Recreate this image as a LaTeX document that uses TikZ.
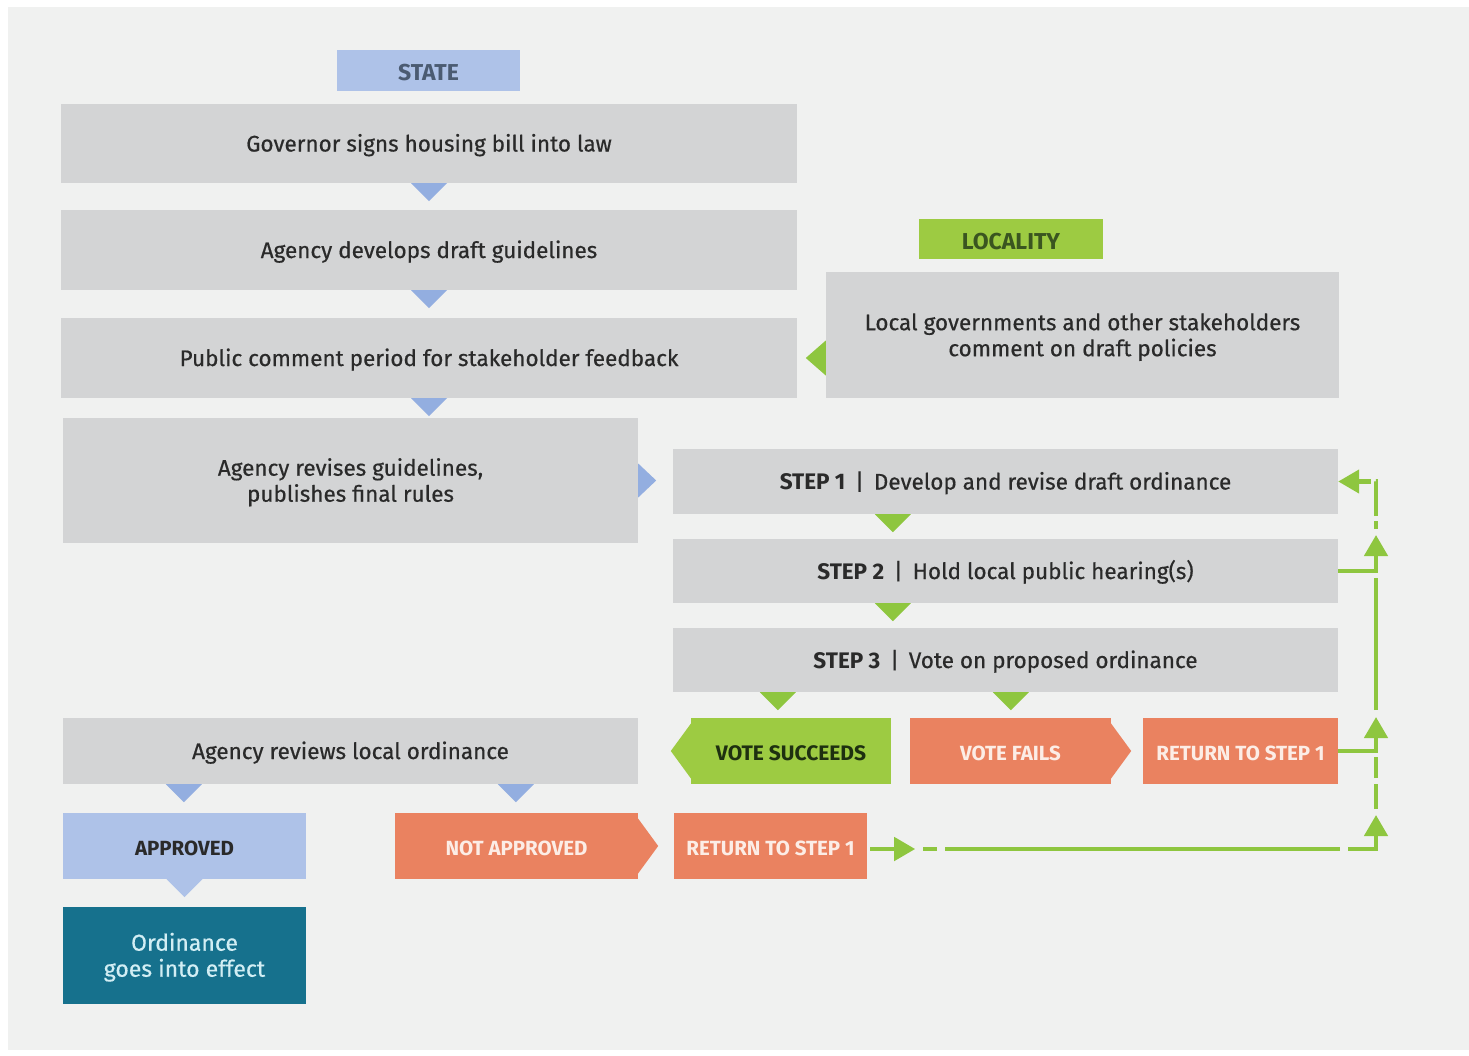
\documentclass[tikz,border=0pt]{standalone}
\usepackage{fontspec}
\setmainfont{Fira Sans}[UprightFeatures={FakeBold=0.5}]
\usetikzlibrary{arrows.meta,calc}
\definecolor{bgc}{HTML}{F0F1F0}
\definecolor{boxg}{HTML}{D3D4D5}
\definecolor{txt}{HTML}{2A2A2A}
\definecolor{lblue}{HTML}{AEC2E8}
\definecolor{tblue}{HTML}{93AEE0}
\definecolor{sblue}{HTML}{4B5B72}
\definecolor{lgreen}{HTML}{9DCB42}
\definecolor{tgreen}{HTML}{8EC63F}
\definecolor{dgreen}{HTML}{3A5520}
\definecolor{vgtxt}{HTML}{1E3010}
\definecolor{orng}{HTML}{EA8260}
\definecolor{otxt}{HTML}{FCEDE6}
\definecolor{teal}{HTML}{16718D}
\definecolor{ttxt}{HTML}{D2EEF4}
\newcommand\tridn[2]{\fill[#1] ($(#2)+(-18,0)$) -- ($(#2)+(18,0)$) -- ($(#2)+(0,18)$) -- cycle;}
\begin{document}
\begin{tikzpicture}[x=1pt,y=-1pt,
  every node/.style={inner sep=0pt, align=center},
  gbox/.style={fill=boxg, text=txt, font=\fontsize{22.5}{26}\selectfont, text height=22pt, text depth=6pt},
  gbox2/.style={fill=boxg, text=txt, font=\fontsize{22.5}{26}\selectfont, text height=48pt, text depth=5.6pt},
  lab/.style={font=\fontsize{23}{26}\selectfont\bfseries, text height=20pt, text depth=0pt},
  obox/.style={fill=orng, text=otxt, font=\fontsize{20.5}{24}\selectfont\bfseries, text height=18pt, text depth=0pt},
  gline/.style={draw=tgreen, line width=4.5pt},
  garr/.style={gline, -{Triangle[length=21pt,width=23pt]}}]
\useasboundingbox (0,0) rectangle (1469,1055);
\fill[white] (0,0) rectangle (1469,1055);
\fill[bgc] (8,7) rectangle (1469,1050);
% state column
\node[lab, fill=lblue, text=sblue, minimum width=183pt, minimum height=41pt] (state) at (428.5,70.5) {STATE};
\node[gbox, minimum width=736pt, minimum height=79pt] (gov) at (429,143.5) {Governor signs housing bill into law};
\node[gbox, minimum width=736pt, minimum height=80pt] (dev) at (429,250) {Agency develops draft guidelines};
\node[gbox, minimum width=736pt, minimum height=80pt] (pub) at (429,358) {Public comment period for stakeholder feedback};
\node[gbox2, minimum width=575pt, minimum height=125pt] (rev) at (350.5,480.5) {Agency revises guidelines,\\publishes final rules};
\tridn{tblue}{gov.south}
\tridn{tblue}{dev.south}
\tridn{tblue}{pub.south}
\fill[tblue] ($(rev.east)+(0,-17)$) -- ($(rev.east)+(18,0)$) -- ($(rev.east)+(0,17)$) -- cycle;
% locality
\node[lab, fill=lgreen, text=dgreen, minimum width=184pt, minimum height=40pt] (loc) at (1011,239) {LOCALITY};
\node[gbox2, minimum width=513pt, minimum height=126pt] (lgov) at (1082.5,335) {Local governments and other stakeholders\\comment on draft policies};
\fill[tgreen] ($(lgov.west |- pub.east)+(0,-17.5)$) -- ($(lgov.west |- pub.east)+(-20,0)$) -- ($(lgov.west |- pub.east)+(0,17.5)$) -- cycle;
% steps
\node[gbox, minimum width=665pt, minimum height=65pt] (s1) at (1005.5,481.5) {\textbf{STEP 1} \,|\, Develop and revise draft ordinance};
\node[gbox, minimum width=665pt, minimum height=64pt] (s2) at (1005.5,571) {\textbf{STEP 2} \,|\, Hold local public hearing(s)};
\node[gbox, minimum width=665pt, minimum height=64pt] (s3) at (1005.5,660) {\textbf{STEP 3} \,|\, Vote on proposed ordinance};
\tridn{tgreen}{$(s1.south west)+(220,0)$}
\tridn{tgreen}{$(s2.south west)+(220,0)$}
\tridn{tgreen}{$(s3.south west)+(105,0)$}
\tridn{tgreen}{$(s3.south west)+(338,0)$}
% vote outcomes
\node[lab, fill=lgreen, text=vgtxt, minimum width=200pt, minimum height=66pt, font=\fontsize{21}{24}\selectfont\bfseries, text height=18pt] (vs) at (791,751) {VOTE SUCCEEDS};
\fill[lgreen] ($(vs.west)+(0.5,-28)$) -- ($(vs.west)+(-20,0)$) -- ($(vs.west)+(0.5,28)$) -- cycle;
\node[obox, minimum width=201pt, minimum height=66pt] (vf) at (1010.5,751) {VOTE FAILS};
\fill[orng] ($(vf.east)+(-0.5,-28)$) -- ($(vf.east)+(20,0)$) -- ($(vf.east)+(-0.5,28)$) -- cycle;
\node[obox, minimum width=195pt, minimum height=66pt] (ret1) at (1240.5,751) {RETURN TO STEP 1};
% agency review
\node[gbox, minimum width=575pt, minimum height=66pt] (arev) at (350.5,751) {Agency reviews local ordinance};
\tridn{tblue}{$(arev.south west)+(121,0)$}
\tridn{tblue}{$(arev.south west)+(453,0)$}
\node[lab, fill=lblue, text=txt, minimum width=243pt, minimum height=66pt, font=\fontsize{20.5}{24}\selectfont\bfseries, text height=18pt] (appr) at (184.5,846) {APPROVED};
\tridn{lblue}{appr.south}
\node[fill=teal, text=ttxt, minimum width=243pt, minimum height=97pt, font=\fontsize{23}{26}\selectfont, text height=48pt, text depth=5.6pt] (ord) at (184.5,955.5) {Ordinance\\goes into effect};
\node[obox, minimum width=243pt, minimum height=66pt] (notap) at (516.5,846) {NOT APPROVED};
\fill[orng] ($(notap.east)+(-0.5,-28)$) -- ($(notap.east)+(20,0)$) -- ($(notap.east)+(-0.5,28)$) -- cycle;
\node[obox, minimum width=193pt, minimum height=66pt] (ret2) at (770.5,846) {RETURN TO STEP 1};
% green return loop
\coordinate (a0) at ($(ret2.east)+(3,3)$);
\coordinate (a1) at ($(ret2.east)+(48,3)$);
\coordinate (h0) at ($(ret2.east)+(56,3)$);
\coordinate (c0) at (1376,849);
\coordinate (c0t) at (1376,815);
\coordinate (d0) at (1376,809);
\coordinate (d1) at (1376,757);
\coordinate (c1) at (1376,751);
\coordinate (c1t) at (1376,717);
\coordinate (e0) at (1376,710);
\coordinate (e1) at (1376,578);
\coordinate (c2) at (1376,571);
\coordinate (c2t) at (1376,535);
\coordinate (f0) at (1376,529);
\coordinate (c3) at (1376,481.5);
\draw[garr] (a0) -- (a1);
\draw[garr, dash pattern=on 14pt off 8pt on 395pt off 8pt on 300pt] (h0) -- (c0) -- (c0t);
\draw[gline, dash pattern=on 25pt off 6pt on 40pt] (d0) -- (d1);
\draw[garr] (ret1.east) -- (c1) -- (c1t);
\draw[gline] (e0) -- (e1);
\draw[garr] (s2.east) -- (c2) -- (c2t);
\draw[garr, dash pattern=on 8pt off 5pt on 35pt off 5pt on 200pt] (f0) -- (c3) -- (s1.east);
\end{tikzpicture}
\end{document}
